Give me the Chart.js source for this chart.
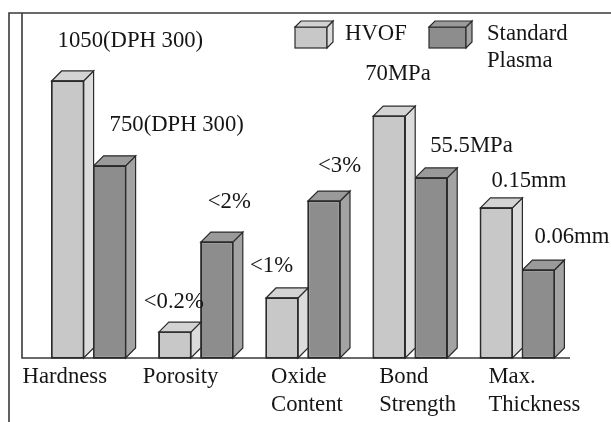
<!DOCTYPE html>
<html>
<head>
<meta charset="utf-8">
<script src="https://cdn.jsdelivr.net/npm/chart.js@4/dist/chart.umd.min.js"></script>
<style>
  html, body { margin: 0; padding: 0; background: #ffffff; }
  canvas { display: block; }
</style>
</head>
<body>
<canvas id="c" width="611" height="422"></canvas>
<script>
// Coating property comparison: HVOF vs standard plasma spray
const categories = [['Hardness'], ['Porosity'], ['Oxide', 'Content'], ['Bond', 'Strength'], ['Max.', 'Thickness']];
const seriesNames = ['HVOF', 'Standard Plasma'];

// Bar heights on a relative 0-100 scale (each property on its own scale)
const hvofHeight = [80.3, 7.5, 17.4, 70.1, 43.5];
const plasmaHeight = [55.7, 33.6, 45.5, 52.2, 25.5];

// Stated values printed above the bars
const hvofText = ['1050(DPH 300)', '<0.2%', '<1%', '70MPa', '0.15mm'];
const plasmaText = ['750(DPH 300)', '<2%', '<3%', '55.5MPa', '0.06mm'];

// Layout helpers (pixel nudges for text placement)
const valueLabelShift = [
  [[6, -34], [-15, -24], [-16, -26], [-8, -36], [11, -21]],
  [[16, -35], [7, -34], [10, -29], [15, -26], [12, -27]]
];
const categoryLabelShift = [-66, -53, -32, -31, -29];

const FONT = '22.7px "Liberation Serif", "Times New Roman", serif';
const TEXT = '#151515';
const EDGE = '#2b2b2b';
const DEPTH = 10;

const palette = [
  { front: '#c8c8c8', side: '#dcdcdc', top: '#d3d3d3' },
  { front: '#8d8d8d', side: '#a3a3a3', top: '#9a9a9a' }
];

function drawBox(ctx, l, r, t, b, d, col) {
  ctx.lineWidth = 1.2;
  ctx.strokeStyle = EDGE;
  ctx.lineJoin = 'miter';
  // side face
  ctx.beginPath();
  ctx.moveTo(r, t);
  ctx.lineTo(r + d, t - d);
  ctx.lineTo(r + d, b - d);
  ctx.lineTo(r, b);
  ctx.closePath();
  ctx.fillStyle = col.side;
  ctx.fill();
  ctx.stroke();
  // top face
  ctx.beginPath();
  ctx.moveTo(l, t);
  ctx.lineTo(l + d, t - d);
  ctx.lineTo(r + d, t - d);
  ctx.lineTo(r, t);
  ctx.closePath();
  ctx.fillStyle = col.top;
  ctx.fill();
  ctx.stroke();
}

const faces3d = {
  id: 'faces3d',
  beforeDatasetsDraw(chart) {
    const ctx = chart.ctx;
    const a = chart.chartArea;
    ctx.save();
    ctx.strokeStyle = '#3a3a3a';
    ctx.lineWidth = 1.6;
    ctx.beginPath();
    // outer frame: top and left edges
    ctx.moveTo(611, 13);
    ctx.lineTo(9, 13);
    ctx.lineTo(9, 422);
    // inner plot frame: left edge and baseline
    ctx.moveTo(22, 13);
    ctx.lineTo(22, a.bottom);
    ctx.lineTo(a.right - 1, a.bottom);
    ctx.stroke();
    ctx.restore();
  },
  afterDatasetDraw(chart, args) {
    const ctx = chart.ctx;
    const meta = chart.getDatasetMeta(args.index);
    const col = palette[args.index];
    ctx.save();
    meta.data.forEach(bar => {
      const p = bar.getProps(['x', 'y', 'base', 'width'], true);
      const l = p.x - p.width / 2, r = p.x + p.width / 2;
      drawBox(ctx, l, r, p.y, p.base, DEPTH, col);
      // redraw the front outline so edges stay crisp
      ctx.strokeStyle = EDGE;
      ctx.lineWidth = 1.2;
      ctx.strokeRect(l, p.y, p.width, p.base - p.y);
    });
    ctx.restore();
  },
  afterDraw(chart) {
    const ctx = chart.ctx;
    ctx.save();
    ctx.font = FONT;
    ctx.fillStyle = TEXT;
    ctx.textAlign = 'left';
    ctx.textBaseline = 'alphabetic';

    // value labels
    const texts = [hvofText, plasmaText];
    [0, 1].forEach(di => {
      chart.getDatasetMeta(di).data.forEach((bar, i) => {
        const p = bar.getProps(['x', 'y', 'width'], true);
        const s = valueLabelShift[di][i];
        ctx.fillText(texts[di][i], p.x - p.width / 2 + s[0], p.y + s[1]);
      });
    });

    // category labels
    const xs = chart.scales.x;
    const base = chart.chartArea.bottom;
    categories.forEach((lines, i) => {
      const x = xs.getPixelForValue(i) + categoryLabelShift[i];
      lines.forEach((t, k) => ctx.fillText(t, x, base + 25 + k * 28));
    });

    // legend with small boxes
    const legendBoxes = [
      { l: 295, r: 327, t: 27, b: 48, tx: 345 },
      { l: 429, r: 466, t: 27, b: 48, tx: 487 }
    ];
    chart.data.datasets.forEach((ds, i) => {
      const lb = legendBoxes[i];
      ctx.fillStyle = palette[i].front;
      ctx.fillRect(lb.l, lb.t, lb.r - lb.l, lb.b - lb.t);
      ctx.strokeStyle = EDGE;
      ctx.lineWidth = 1.2;
      ctx.strokeRect(lb.l, lb.t, lb.r - lb.l, lb.b - lb.t);
      drawBox(ctx, lb.l, lb.r, lb.t, lb.b, 6, palette[i]);
      ctx.fillStyle = TEXT;
      ds.label.split(' ').forEach((w, k) => ctx.fillText(w, lb.tx, 40 + k * 27));
    });
    ctx.restore();
  }
};

new Chart(document.getElementById('c'), {
  type: 'bar',
  data: {
    labels: categories,
    datasets: [
      {
        label: seriesNames[0],
        data: hvofHeight,
        backgroundColor: palette[0].front,
        borderColor: EDGE,
        borderWidth: 1.2,
        borderSkipped: false
      },
      {
        label: seriesNames[1],
        data: plasmaHeight,
        backgroundColor: palette[1].front,
        borderColor: EDGE,
        borderWidth: 1.2,
        borderSkipped: false
      }
    ]
  },
  options: {
    responsive: false,
    animation: false,
    layout: { padding: { left: 35, right: 40, top: 13, bottom: 64 } },
    categoryPercentage: 0.7836,
    barPercentage: 0.762,
    plugins: {
      legend: { display: false },
      tooltip: { enabled: false }
    },
    scales: {
      x: { display: false },
      y: { display: false, min: 0, max: 100 }
    }
  },
  plugins: [faces3d]
});
</script>
</body>
</html>
